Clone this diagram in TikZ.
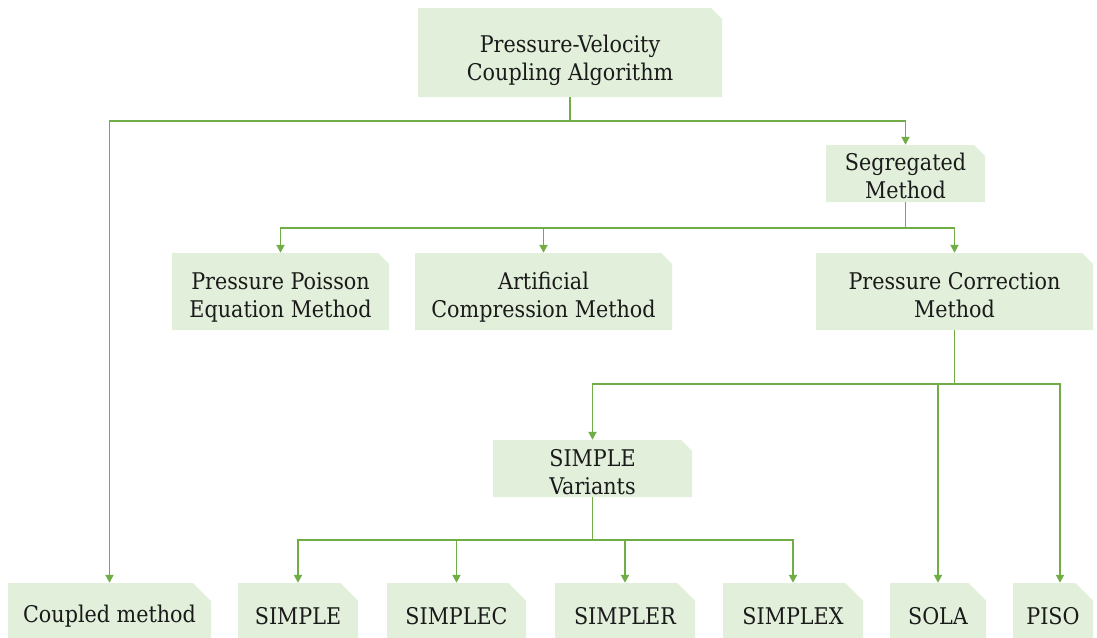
\documentclass[tikz,border=0pt]{standalone}
\usepackage{fontspec}
\setmainfont{DejaVu Serif Condensed}
\usetikzlibrary{shapes.misc,arrows.meta,calc}
\definecolor{boxfill}{HTML}{E2EFDA}
\definecolor{linkgreen}{HTML}{70AD47}
\definecolor{inktext}{HTML}{1A1A1A}
% stacked, centred lines, lowered by #1; the box reports no height so the node keeps its set size
\newcommand{\stacklines}[2]{\raisebox{-#1}[0pt][0pt]{\begin{tabular}{@{}c@{}}#2\end{tabular}}}
\begin{document}
\begin{tikzpicture}[x=1pt,y=-1pt,
  box/.style={chamfered rectangle, chamfered rectangle corners=north east,
    chamfered rectangle xsep=11pt, chamfered rectangle ysep=11pt,
    fill=boxfill, draw=none, inner sep=0pt, align=center,
    text=inktext, font=\fontsize{23}{28}\selectfont},
  leaf/.style={box, chamfered rectangle xsep=9pt, chamfered rectangle ysep=9pt,
    minimum height=66pt},
  link/.style={draw=linkgreen, line width=1.9pt},
  arr/.style={link, -{Triangle[length=8pt,width=8pt]}}]
\useasboundingbox (0,0) rectangle (1097,637);

% upper levels
\node[box, minimum width=304pt, minimum height=89pt] (top) at (570,52.5) {\stacklines{14.5pt}{Pressure-Velocity\\Coupling Algorithm}};
\node[box, minimum width=159pt, minimum height=57pt] (seg) at (905.5,173.5) {\stacklines{11.5pt}{Segregated\\Method}};
\node[box, minimum width=217pt, minimum height=77pt] (ppe) at (280.5,291.5) {\stacklines{12.5pt}{Pressure Poisson\\Equation Method}};
\node[box, minimum width=257pt, minimum height=77pt] (acm) at (543.5,291.5) {\stacklines{12.5pt}{Artificial\\Compression Method}};
\node[box, minimum width=277pt, minimum height=77pt] (pcm) at (954.5,291.5) {\stacklines{12.5pt}{Pressure Correction\\Method}};
\node[box, minimum width=199pt, minimum height=57pt] (sv) at (592.5,468.5) {\stacklines{12.5pt}{SIMPLE\\Variants}};

% bottom row (boxes run off the lower edge)
\node[leaf, minimum width=203pt] (coupled) at (109.5,616) {Coupled method};
\node[leaf, minimum width=120pt] (simple) at (298,616) {SIMPLE};
\node[leaf, minimum width=139pt] (simplec) at (456.5,616) {SIMPLEC};
\node[leaf, minimum width=140pt] (simpler) at (625,616) {SIMPLER};
\node[leaf, minimum width=140pt] (simplex) at (793,616) {SIMPLEX};
\node[leaf, minimum width=96pt] (sola) at (938,616) {SOLA};
\node[leaf, minimum width=80pt] (piso) at (1053,616) {PISO};

% connectors
\draw[arr] (top.south) -- ++(0,24) coordinate (tb) -| (coupled.north);
\draw[arr] (tb) -| (seg.north);

\draw[arr] (seg.south) -- ++(0,26) coordinate (sb) -| (ppe.north);
\draw[arr] (sb) -| (acm.north);
\draw[arr] (sb) -| (pcm.north);

\draw[arr] (pcm.south) -- ++(0,54) coordinate (pb) -| (sv.north);
\draw[arr] (pb) -| (sola.north);
\draw[arr] (pb) -| ($(piso.north)+(7,0)$);

\draw[arr] (sv.south) -- ++(0,43) coordinate (vb) -| (simple.north);
\draw[arr] (vb) -| (simplec.north);
\draw[arr] (vb) -| (simpler.north);
\draw[arr] (vb) -| (simplex.north);
\end{tikzpicture}
\end{document}
